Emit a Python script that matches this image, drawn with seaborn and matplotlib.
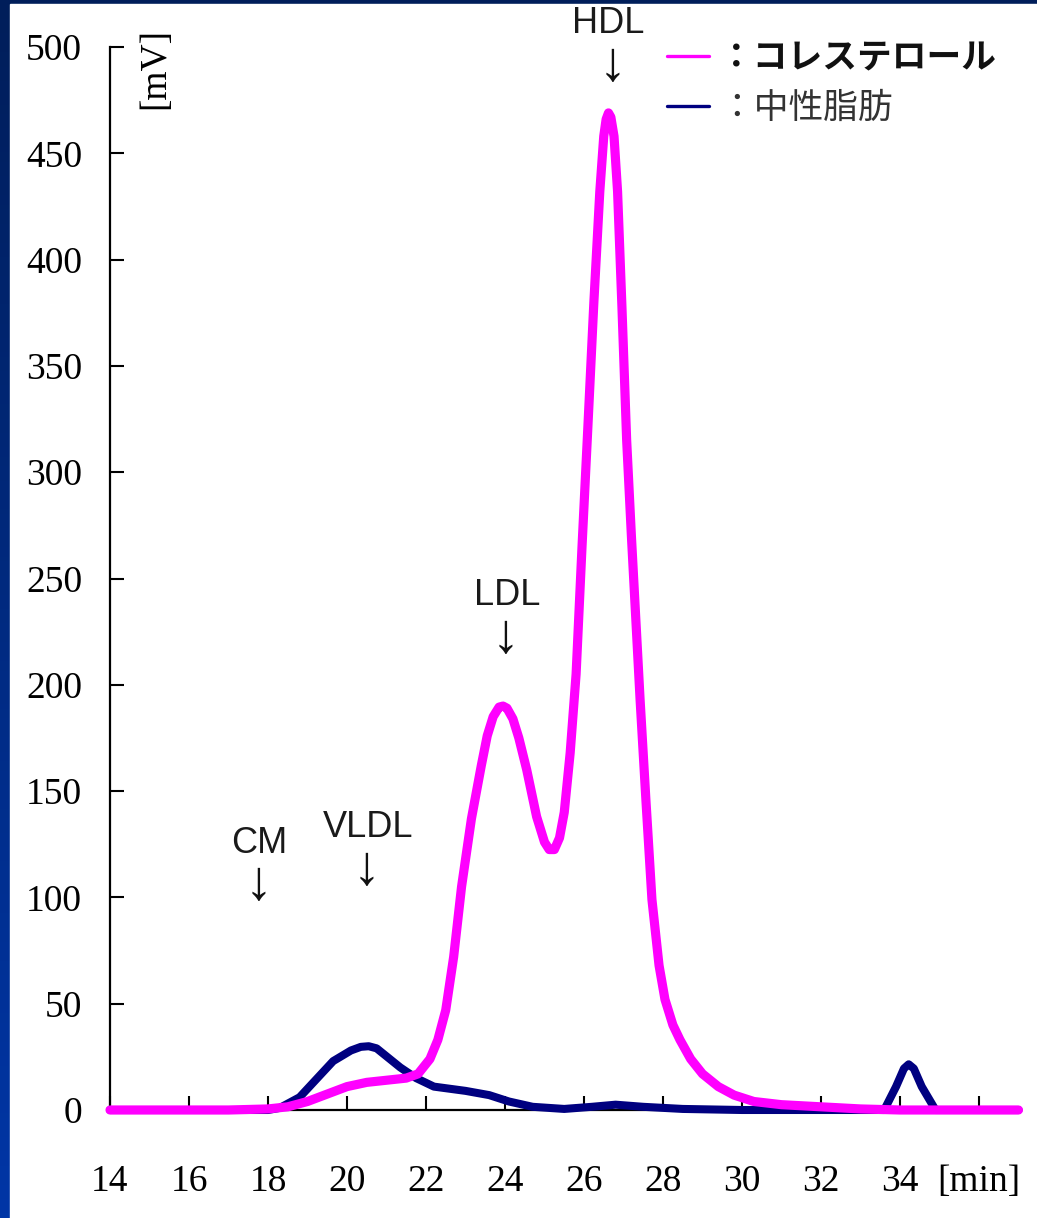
import numpy as np
import pandas as pd
import matplotlib
matplotlib.use("Agg")
import matplotlib.pyplot as plt
import seaborn as sns
from matplotlib.patches import Rectangle
from matplotlib.colors import LinearSegmentedColormap

# --- data ---
# cholesterol trace (magenta)
chol_min = [14, 17, 18, 18.5, 19, 19.5, 20, 20.5, 21, 21.5,
            21.8, 22.1, 22.3, 22.5, 22.7, 22.9, 23.15, 23.4, 23.55, 23.7,
            23.85, 23.95, 24.05, 24.2, 24.35, 24.55, 24.8, 25.0, 25.12, 25.25,
            25.38, 25.5, 25.65, 25.8, 25.95, 26.1, 26.25, 26.4, 26.5, 26.56,
            26.62, 26.68, 26.76, 26.85, 26.96, 27.08, 27.2, 27.3, 27.42, 27.57,
            27.72, 27.9, 28.05, 28.25, 28.43, 28.7, 29.0, 29.4, 29.8, 30.3,
            31.0, 32.0, 33.0, 34.0, 37.0]
chol_mv = [0, 0, 0.5, 1.5, 4, 7.5, 11, 13, 14, 15,
           17, 24, 33, 47, 72, 105, 137, 162, 176, 185,
           189.5, 190, 189, 184, 175, 160, 138, 126, 122.5, 122.5,
           128, 140, 168, 205, 265, 322, 380, 432, 458, 466,
           469, 467, 458, 432, 378, 315, 270, 235, 193, 145,
           99, 68, 52, 40, 33, 24, 17, 11, 7, 4,
           2.5, 1.5, 0.5, 0, 0]

# triglyceride trace (navy)
tg_min = [14, 18.0, 18.3, 18.8, 19.25, 19.65, 20.1, 20.35, 20.55, 20.75,
          20.95, 21.35, 21.75, 22.2, 23.0, 23.6, 24.1, 24.7, 25.5, 26.2,
          26.8, 27.5, 28.5, 30.0, 33.6, 33.9, 34.1, 34.22, 34.35, 34.55,
          34.9, 37.0]
tg_mv = [0, 0, 1, 6, 15, 23, 28, 29.7, 30, 29,
         26, 20, 15, 11, 9, 7, 4, 1.5, 0.5, 1.5,
         2.5, 1.5, 0.5, 0, 0, 11, 19.5, 21.5, 19.5, 11,
         0, 0]

series_labels = ["：コレステロール", "：中性脂肪"]
peak_names = ["CM", "VLDL", "LDL", "HDL"]

x_ticks = list(range(14, 37, 2))
x_ticklabels = [str(t) for t in x_ticks[:-1]] + ["[min]"]
y_ticks = list(range(0, 501, 50))

chol_df = pd.DataFrame({"min": chol_min, "mV": chol_mv})
tg_df = pd.DataFrame({"min": tg_min, "mV": tg_mv})

# --- style ---
sns.set_theme(style="ticks")
plt.rcParams["font.family"] = ["Liberation Serif", "DejaVu Serif"]
SANS = ["Liberation Sans", "DejaVu Sans"]
CJK = ["Noto Sans CJK JP", "DejaVu Sans"]
MAGENTA = "#ff00ff"
NAVY = "#000080"

fig = plt.figure(figsize=(10.37, 12.18), dpi=100)

# navy slide background with a white panel
bg = fig.add_axes([0, 0, 1, 1], zorder=-5)
navy_cmap = LinearSegmentedColormap.from_list("nv", ["#001e5a", "#0036a6"])
bg.imshow(np.linspace(0, 1, 256)[:, None], aspect="auto", cmap=navy_cmap,
          extent=[0, 1, 0, 1])
bg.add_patch(Rectangle((10 / 1037, 0), 1, 1 - 4 / 1218, color="white"))
bg.set_xlim(0, 1)
bg.set_ylim(0, 1)
bg.axis("off")

ax = fig.add_axes([110 / 1037, 108 / 1218, 908.5 / 1037, 1063 / 1218])
ax.set_facecolor("none")

sns.lineplot(data=tg_df, x="min", y="mV", color=NAVY, lw=5.8, ax=ax,
             label=series_labels[1], clip_on=False, zorder=3)
sns.lineplot(data=chol_df, x="min", y="mV", color=MAGENTA, lw=6.6, ax=ax,
             label=series_labels[0], clip_on=False, zorder=4)

ax.set_xlim(14, 37)
ax.set_ylim(0, 500)
ax.set_xticks(x_ticks)
ax.set_xticklabels(x_ticklabels)
ax.set_yticks(y_ticks)
ax.set_xlabel("")
ax.set_ylabel("")
ax.tick_params(axis="both", direction="in", length=10, width=1.5,
               colors="black", labelsize=27)
ax.tick_params(axis="x", pad=39)
ax.tick_params(axis="y", pad=20)
sns.despine(ax=ax)
for side in ["left", "bottom"]:
    ax.spines[side].set_linewidth(1.6)
    ax.spines[side].set_color("black")

ax.text(15.14, 490, "[mV]", rotation=90, ha="center", va="center",
        fontsize=27, color="black")

# peak labels with arrows
label_pos = {"CM": (17.77, 121), "VLDL": (20.53, 128.4),
             "LDL": (24.05, 237.5), "HDL": (26.6, 506.6)}
arrow_pos = {"CM": (17.77, 106), "VLDL": (20.5, 113),
             "LDL": (24.0, 222), "HDL": (26.71, 491)}
for name in peak_names:
    tx, ty = label_pos[name]
    ax.text(tx, ty, name, ha="center", va="baseline", fontsize=26,
            family=SANS, color="#1a1a1a", clip_on=False)
    axx, ayy = arrow_pos[name]
    ax.text(axx, ayy, "↓", ha="center", va="center", fontsize=40,
            family=SANS, color="#111111", clip_on=False)

# legend in the upper right corner
h, l = ax.get_legend_handles_labels()
order = [l.index(series_labels[0]), l.index(series_labels[1])]
leg = ax.legend([h[i] for i in order], [l[i] for i in order],
                loc="upper left", bbox_to_anchor=(0.613, 1.006),
                frameon=False, borderpad=0, borderaxespad=0,
                handlelength=1.2, handletextpad=0.3, labelspacing=0.45,
                prop={"family": CJK, "size": 25})
for line in leg.get_lines():
    line.set_linewidth(2.4)
txts = leg.get_texts()
txts[0].set_fontweight("bold")
txts[0].set_color("#111111")
txts[1].set_color("#333333")

fig.savefig("out.png", dpi=100)
